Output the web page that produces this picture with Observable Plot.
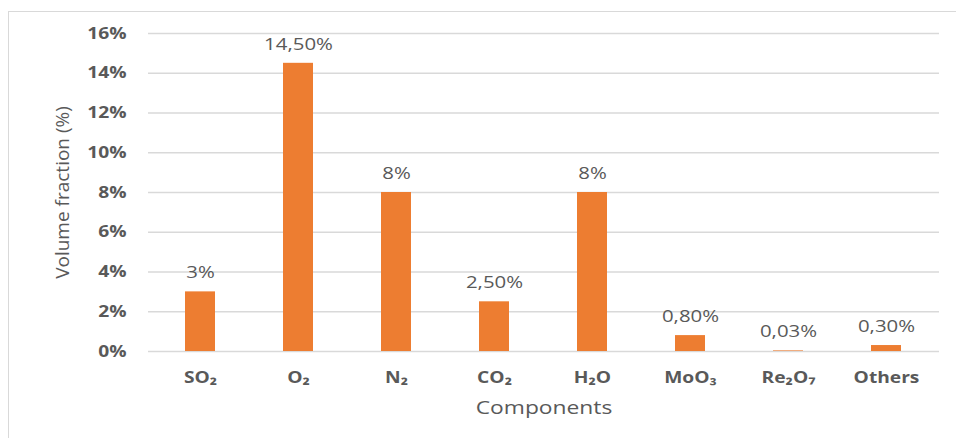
<!DOCTYPE html>
<html>
<head>
<meta charset="utf-8">
<script src="https://cdn.jsdelivr.net/npm/d3@7"></script>
<script src="https://cdn.jsdelivr.net/npm/@observablehq/plot@0.6"></script>
<style>
  body { margin: 0; background: #fff; }
  #wrap { position: relative; width: 956px; height: 438px; overflow: hidden; }
  #frame { position: absolute; left: 8px; top: 11px; width: 960px; height: 440px;
           border-left: 1.5px solid #d9d9d9; border-top: 1.5px solid #d9d9d9; box-sizing: border-box; }
  #chart { position: absolute; left: 0; top: 0; }
</style>
</head>
<body>
<div id="wrap"><div id="frame"></div><div id="chart"></div></div>
<script>
// Flue-gas composition: volume fraction of each component
const components = ["SO₂", "O₂", "N₂", "CO₂", "H₂O", "MoO₃", "Re₂O₇", "Others"];
const fractions = [0.03, 0.145, 0.08, 0.025, 0.08, 0.008, 0.0003, 0.003];
const valueLabels = ["3%", "14,50%", "8%", "2,50%", "8%", "0,80%", "0,03%", "0,30%"];
const yTicks = [0, 0.02, 0.04, 0.06, 0.08, 0.10, 0.12, 0.14, 0.16];
const yTitle = "Volume fraction (%)";
const xTitle = "Components";

const rows = components.map((c, i) => ({component: c, value: fractions[i], label: valueLabels[i]}));

const font = "'Open Sans', 'DejaVu Sans', sans-serif";
const grey = "#595959";

const chart = Plot.plot({
  width: 956,
  height: 438,
  marginLeft: 148,
  marginRight: 17,
  marginTop: 33,
  marginBottom: 87,
  style: {fontFamily: font, background: "transparent", overflow: "visible"},
  x: {domain: components, paddingInner: 0.69, paddingOuter: 0.345, label: null},
  y: {domain: [0, 0.16], label: null},
  marks: [
    Plot.ruleY(yTicks, {stroke: "#d9d9d9", strokeWidth: 1.5}),
    Plot.barY(rows, {x: "component", y: "value", fill: "#ED7D31"}),
    Plot.text(rows, {x: "component", y: "value", text: "label", dy: -19,
      fill: grey, fontSize: 17, lineAnchor: "middle"}),
    Plot.axisY({ticks: yTicks, tickFormat: d => Math.round(d * 100) + "%", tickSize: 0,
      tickPadding: 22, fontSize: 16, fontWeight: "bold", fill: grey, label: null}),
    Plot.axisX({tickSize: 0, tickPadding: 20, fontSize: 16, fontWeight: "bold", fill: grey, label: null}),
    Plot.text([xTitle], {text: d => d, frameAnchor: "bottom", dy: 56,
      fontSize: 19, fill: grey, lineAnchor: "middle", textAnchor: "middle"}),
    Plot.text([yTitle], {text: d => d, frameAnchor: "left", dx: -86,
      rotate: -90, fontSize: 19, fill: grey, lineAnchor: "middle", textAnchor: "middle"})
  ]
});

document.getElementById("chart").appendChild(chart);

// Widen the horizontal labels slightly so the lettering reads broad, like the original typeface
d3.select(chart).selectAll("text").each(function () {
  if (this.textContent === yTitle) return;
  const len = this.getComputedTextLength();
  if (len > 0) {
    this.setAttribute("textLength", (len * 1.2).toFixed(1));
    this.setAttribute("lengthAdjust", "spacingAndGlyphs");
  }
});
</script>
</body>
</html>
